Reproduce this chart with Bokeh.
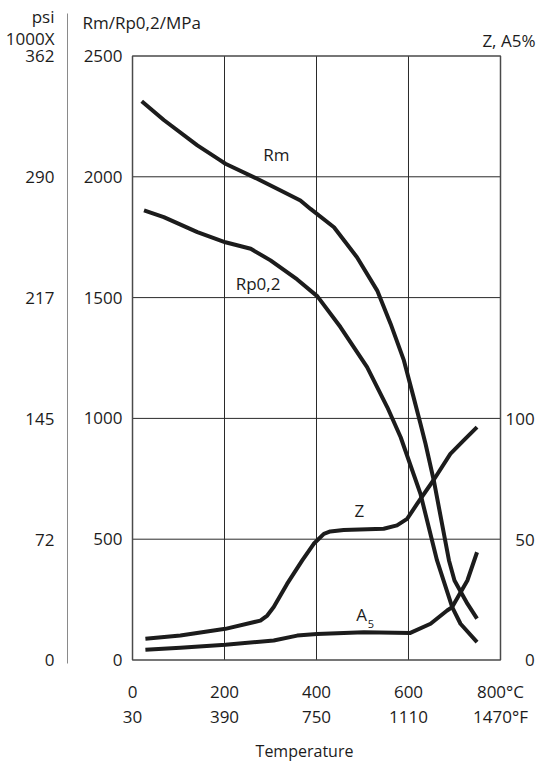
from bokeh.plotting import figure
from bokeh.models import Range1d, LinearAxis, FixedTicker
from bokeh.core.properties import value
from bokeh.embed import file_html
from bokeh.resources import INLINE

FONT = "Open Sans"
INK = "#1c1c1c"

# ---- data ----
temp_c_ticks = [0, 200, 400, 600, 800]
temp_c_labels = ["0", "200", "400", "600", "800°C"]
temp_f_labels = ["30", "390", "750", "1110", "1470°F"]
mpa_ticks = [0, 500, 1000, 1500, 2000, 2500]
mpa_labels = ["0", "500", "1000", "1500", "2000", "2500"]
psi_labels = ["0", "72", "145", "217", "290", "362"]
psi_head_labels = ["1000X", "psi"]
pct_ticks = [0, 50, 100]
pct_labels = ["\u2007\u20070", "\u200750", "100"]   # figure spaces keep the numbers right-aligned

rm_t = [20, 68, 141, 191, 202, 271, 322, 365, 387, 438, 488, 532, 561, 590, 611, 626, 637, 655, 688, 700, 728, 749]
rm_v = [2313, 2235, 2130, 2068, 2054, 1992, 1943, 1902, 1867, 1791, 1667, 1529, 1392, 1240, 1088, 978, 895, 743, 412, 329, 233, 171]

rp_t = [25, 68, 141, 202, 257, 300, 358, 402, 452, 510, 554, 583, 626, 662, 695, 713, 749]
rp_v = [1861, 1833, 1771, 1729, 1702, 1654, 1575, 1505, 1378, 1212, 1046, 922, 688, 412, 219, 150, 74]

z_t = [28, 104, 202, 278, 293, 307, 336, 369, 394, 416, 430, 459, 546, 575, 597, 619, 655, 691, 720, 749]
z_v = [8.8, 10.1, 12.9, 16.3, 18.4, 21.9, 31.5, 41.2, 48.1, 52.2, 53.2, 53.8, 54.3, 55.7, 58.4, 64.7, 74.6, 85.3, 90.9, 96.4]

a_t = [28, 104, 202, 307, 358, 401, 503, 604, 648, 684, 695, 728, 749]
a_v = [4.2, 5.1, 6.3, 8.1, 10.1, 10.8, 11.5, 11.2, 15.0, 20.5, 21.9, 32.9, 44.6]

curve_names = ["Rm", "Rp0,2", "Z"]
y_title = "Rm/Rp0,2/MPa"
pct_title = "Z, A5%"
x_title = "Temperature"

# ---- layout constants (positions in data units of the canvas-wide frame) ----
PSI_HEAD_POS = [2572, 2664]      # rows for "1000X" and "psi"
PSI_AXIS_X = -141.3              # location of the psi scale line
PSI_BOUNDS = (-14, 2676)
CURVE_LABEL_X = [313, 273, 493]
CURVE_LABEL_Y = [2091, 1560, 619]

p = figure(width=539, height=765, output_backend="svg", toolbar_location=None,
           x_range=Range1d(-287.0, 884.8), y_range=Range1d(-436.7, 2729.7),
           x_axis_location=None, y_axis_location=None, min_border=0,
           outline_line_color=None, background_fill_color="white", border_fill_color="white")
p.extra_y_ranges = {"pct": Range1d(-43.67, 272.97)}
p.grid.visible = False


def style_axis(ax, size="17px"):
    ax.major_tick_line_color = None
    ax.minor_tick_line_color = None
    ax.major_tick_out = 0
    ax.major_tick_in = 0
    ax.minor_tick_out = 0
    ax.minor_tick_in = 0
    ax.axis_line_color = None
    ax.major_label_text_font = FONT
    ax.major_label_text_font_size = size
    ax.major_label_text_color = INK


# MPa scale along the left edge of the box
ax_mpa = LinearAxis(fixed_location=temp_c_ticks[0], ticker=FixedTicker(ticks=mpa_ticks),
                    major_label_overrides=dict(zip(mpa_ticks, mpa_labels)),
                    major_label_standoff=10)
style_axis(ax_mpa)
p.add_layout(ax_mpa, "left")

# psi scale (outer, with its own line)
ax_psi = LinearAxis(fixed_location=PSI_AXIS_X, bounds=PSI_BOUNDS,
                    ticker=FixedTicker(ticks=mpa_ticks + PSI_HEAD_POS),
                    major_label_overrides=dict(zip(mpa_ticks + PSI_HEAD_POS, psi_labels + psi_head_labels)),
                    major_label_standoff=13)
style_axis(ax_psi)
ax_psi.axis_line_color = "#8a8a8a"
ax_psi.axis_line_width = 1
p.add_layout(ax_psi, "left")

# right % scale
ax_pct = LinearAxis(y_range_name="pct", fixed_location=temp_c_ticks[-1],
                    ticker=FixedTicker(ticks=pct_ticks),
                    major_label_overrides=dict(zip(pct_ticks, pct_labels)),
                    major_label_standoff=5)
style_axis(ax_pct)
p.add_layout(ax_pct, "right")

# bottom °C scale
ax_c = LinearAxis(fixed_location=mpa_ticks[0], ticker=FixedTicker(ticks=temp_c_ticks),
                  major_label_overrides=dict(zip(temp_c_ticks, temp_c_labels)),
                  major_label_standoff=20)
style_axis(ax_c)
p.add_layout(ax_c, "below")

# bottom °F scale
ax_f = LinearAxis(fixed_location=mpa_ticks[0], ticker=FixedTicker(ticks=temp_c_ticks),
                  major_label_overrides=dict(zip(temp_c_ticks, temp_f_labels)),
                  major_label_standoff=45)
style_axis(ax_f)
p.add_layout(ax_f, "below")

# axis title "Temperature"
ax_t = LinearAxis(fixed_location=mpa_ticks[0], ticker=FixedTicker(ticks=[]),
                  bounds=(274, 474), axis_label=x_title, axis_label_standoff=80,
                  axis_label_text_font=FONT, axis_label_text_font_size="16px",
                  axis_label_text_font_style="normal", axis_label_text_color=INK)
style_axis(ax_t)
p.add_layout(ax_t, "below")

# grid lines and box
vx = temp_c_ticks[1:-1]
p.segment(x0=vx, y0=[mpa_ticks[0]] * len(vx), x1=vx, y1=[mpa_ticks[-1]] * len(vx),
          line_color="#2a2a2a", line_width=1)
hy = mpa_ticks[1:-1]
p.segment(x0=[temp_c_ticks[0]] * len(hy), y0=hy, x1=[temp_c_ticks[-1]] * len(hy), y1=hy,
          line_color="#2a2a2a", line_width=1)
p.quad(left=temp_c_ticks[0], right=temp_c_ticks[-1], bottom=mpa_ticks[0], top=mpa_ticks[-1],
       fill_color=None, line_color="#4a4a4a", line_width=1.5)

# curves
lw = 4
p.line(rm_t, rm_v, line_width=lw, line_color=INK, line_join="round")
p.line(rp_t, rp_v, line_width=lw, line_color=INK, line_join="round")
p.line(z_t, z_v, line_width=lw, line_color=INK, line_join="round", y_range_name="pct")
p.line(a_t, a_v, line_width=lw, line_color=INK, line_join="round", y_range_name="pct")

# curve labels
p.text(x=CURVE_LABEL_X, y=CURVE_LABEL_Y, text=curve_names,
       text_font=value(FONT), text_font_size="17px", text_color=INK,
       text_align="center", text_baseline="middle")
p.text(x=[498], y=[188], text=["A"],
       text_font=value(FONT), text_font_size="17px", text_color=INK,
       text_align="center", text_baseline="middle")
p.text(x=[518], y=[150], text=["5"],
       text_font=value(FONT), text_font_size="11px", text_color=INK,
       text_align="center", text_baseline="middle")

# scale titles at the top
p.text(x=[-108.7], y=[2638], text=[y_title],
       text_font=value(FONT), text_font_size="17px", text_color=INK,
       text_align="left", text_baseline="alphabetic")
p.text(x=[876], y=[2564], text=[pct_title],
       text_font=value(FONT), text_font_size="17px", text_color=INK,
       text_align="right", text_baseline="alphabetic")

open("out.html", "w").write(file_html(p, INLINE))
